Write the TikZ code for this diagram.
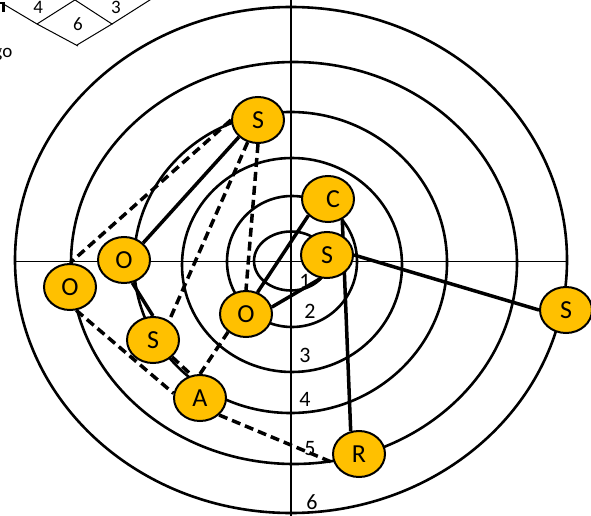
\documentclass[tikz,border=0pt]{standalone}
\usepackage{fontspec}
\setmainfont{Carlito}
\usepackage{xcolor}
\usepackage{tikz}
\usetikzlibrary{
  arrows.meta,
  positioning,
  shapes.geometric
}
\definecolor{nodegold}{HTML}{FFC000}
\pgfdeclarelayer{rings}
\pgfdeclarelayer{edges}
\pgfsetlayers{rings,edges,main}
\tikzset{
  ringnode/.style={
    ellipse, draw=black, fill=nodegold, line width=2pt,
    minimum width=52pt, minimum height=46pt, inner sep=0pt,
    font=\fontsize{26}{30}\selectfont
  },
  ringline/.style={
    line width=2.6pt
  },
  axisline/.style={
    line width=1.2pt
  },
  solidedge/.style={
    line width=3.5pt
  },
  dashedge/.style={
    line width=3.5pt, dash pattern=on 9pt off 5pt
  },
  ringlabel/.style={
    font=\fontsize{22}{26}\selectfont, inner sep=0pt
  },
  gridlabel/.style={
    font=\fontsize{19}{22}\selectfont, inner sep=0pt
  },
  gridline/.style={
    line width=1pt
  },
}

\begin{document}
\begin{tikzpicture}[x=1pt,y=-1pt]
  \useasboundingbox (0,0) rectangle (591,516);
  \clip (0,0) rectangle (591,516);

  \begin{pgfonlayer}{rings}
    \draw[ringline] (291,261) ellipse [x radius=37, y radius=29.5];
    \draw[ringline] (292,261.5) ellipse [x radius=65, y radius=65.5];
    \draw[ringline] (292,265) ellipse [x radius=110, y radius=107];
    \draw[ringline] (290.5,262.5) ellipse [x radius=156.5, y radius=150.5];
    \draw[ringline] (294,263) ellipse [x radius=223, y radius=201];
    \draw[ringline] (291,260) ellipse [x radius=276, y radius=253];
    \draw[axisline] (14,261.5) -- (568,261.5);
    \draw[axisline] (291,0) -- (291,516);
    \draw[gridline] (3,3.8) -- (37,24) -- (78,46);
    \draw[gridline] (37,24) -- (78,-2);
    \draw[gridline] (72,-2) -- (112,24) -- (77,45);
    \draw[gridline] (112,24) -- (153,-2);
    \draw[line width=2.5pt] (0,2.9) -- (3.4,2.9) -- (3.4,11.7);
  \end{pgfonlayer}

  \node[gridlabel] (g4) at (38.3,7) {4};
  \node[gridlabel] (g3) at (116,7) {3};
  \node[gridlabel] (g6) at (78,24) {6};
  \node[gridlabel, anchor=base east] (go) at (12.5,58) {go};

  \node[ringlabel] (r1lab) at (305,281) {1};
  \node[ringlabel] (r2lab) at (310,311) {2};
  \node[ringlabel] (r3lab) at (305,355) {3};
  \node[ringlabel] (r4lab) at (305,399) {4};
  \node[ringlabel] (r5lab) at (310,449) {5};
  \node[ringlabel] (r6lab) at (312,502) {6};

  \node[ringnode] (s1) at (258,120) {S};
  \node[ringnode] (c1) at (328,199) {\hspace*{10pt}C};
  \node[ringnode] (s2) at (327,255) {S};
  \node[ringnode] (s3) at (566,310) {S};
  \node[ringnode] (o1) at (70,287) {O};
  \node[ringnode] (o2) at (124,260) {O};
  \node[ringnode] (s4) at (153,340) {S};
  \node[ringnode] (a1) at (200,398) {A};
  \node[ringnode] (o3) at (246,314) {O};
  \node[ringnode] (r1) at (359,454) {R};

  \begin{pgfonlayer}{edges}
    \draw[dashedge] (s1.west) -- (o1.north);
    \draw[solidedge] (s1.south west) -- (o2.north east);
    \draw[dashedge] (s1.-115) -- (s4.50);
    \draw[dashedge] (s1.south) -- (o3.north);
    \draw[solidedge] (o2.-70) -- (s4.north);
    \draw[dashedge] (s4.south east) -- (a1.110);
    \draw[dashedge] (o1.-75) -- (a1.170);
    \draw[dashedge] (a1.north) -- (o3.225);
    \draw[dashedge] (a1.south east) -- (r1.200);
    \draw[solidedge] (o3.62) -- (c1.220);
    \draw[solidedge] (o3.15) -- (s2.-105);
    \draw[solidedge] (s2.east) -- (s3.west);
    \draw[solidedge] (c1.-55) -- (r1.110);
  \end{pgfonlayer}
\end{tikzpicture}
\end{document}
